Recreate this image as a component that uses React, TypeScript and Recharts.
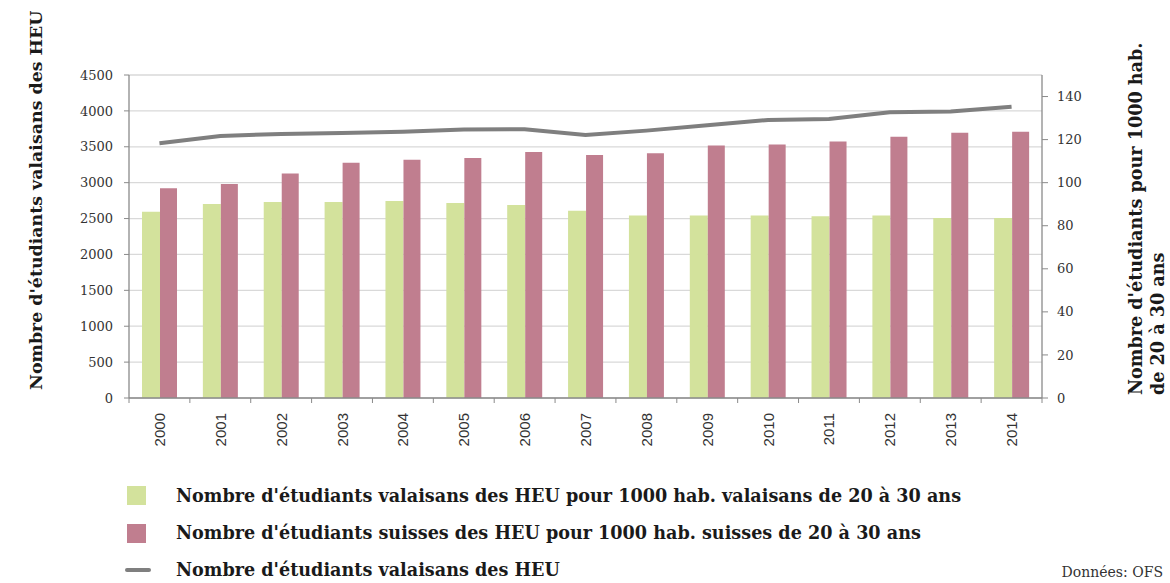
import React from 'react';
import { ComposedChart, Bar, Line, XAxis, YAxis, CartesianGrid } from 'recharts';

const years = ['2000','2001','2002','2003','2004','2005','2006','2007','2008','2009','2010','2011','2012','2013','2014'];
const valaisansPer1000 = [86.5, 90.1, 91.0, 91.0, 91.5, 90.5, 89.6, 87.0, 84.8, 84.8, 84.8, 84.4, 84.8, 83.6, 83.6];
const suissesPer1000 = [97.4, 99.4, 104.3, 109.2, 110.6, 111.4, 114.2, 112.8, 113.7, 117.3, 117.7, 119.1, 121.3, 123.2, 123.6];
const valaisansHEU = [3549, 3651, 3679, 3693, 3711, 3739, 3744, 3665, 3725, 3800, 3874, 3888, 3981, 3990, 4059];
const leftTicks = [0, 500, 1000, 1500, 2000, 2500, 3000, 3500, 4000, 4500];
const rightTicks = [0, 20, 40, 60, 80, 100, 120, 140];

const legendLabels = [
  "Nombre d'étudiants valaisans des HEU pour 1000 hab. valaisans de 20 à 30 ans",
  "Nombre d'étudiants suisses des HEU pour 1000 hab. suisses de 20 à 30 ans",
  "Nombre d'étudiants valaisans des HEU",
];

const data = years.map((y, i) => ({
  year: y,
  vs: valaisansPer1000[i],
  ch: suissesPer1000[i],
  heu: valaisansHEU[i],
}));

const GREEN = '#d3e29c';
const PINK = '#c07e8f';
const LINE = '#7f7f7f';
const AXIS = '#8a8a8a';
const SERIF = '"DejaVu Serif", serif';
const SANS = '"Liberation Sans", Arial, sans-serif';

const XTick = (props: any) => {
  const { x, y, payload, index } = props;
  const off = payload.offset ?? 0;
  return (
    <g>
      <line x1={x - off} x2={x - off} y1={y} y2={y + 5} stroke={AXIS} strokeWidth={1} />
      {index === years.length - 1 && (
        <line x1={x + off} x2={x + off} y1={y} y2={y + 5} stroke={AXIS} strokeWidth={1} />
      )}
      <text
        transform={`translate(${x + 5.5},${y + 15}) rotate(-90)`}
        textAnchor="end"
        fontFamily={SANS}
        fontSize={15}
        fill="#333"
      >
        {payload.value}
      </text>
    </g>
  );
};

export default function App() {
  return (
    <div style={{ position: 'absolute', left: 0, top: 0, width: 1170, height: 583, background: '#fff' }}>
      <ComposedChart
        width={1170}
        height={583}
        data={data}
        margin={{ top: 75, right: 68, left: 69, bottom: 135 }}
        barGap={0}
      >
        <CartesianGrid yAxisId="left" vertical={false} stroke="#d9d9d9" strokeWidth={1.3} />
        <XAxis
          dataKey="year"
          height={50}
          stroke={AXIS}
          axisLine={{ stroke: AXIS, strokeWidth: 1.3 }}
          tickLine={false}
          tickSize={0}
          tickMargin={0}
          interval={0}
          tick={<XTick />}
        />
        <YAxis
          yAxisId="left"
          orientation="left"
          width={60}
          domain={[0, 4500]}
          ticks={leftTicks}
          interval={0}
          axisLine={{ stroke: AXIS, strokeWidth: 1.3 }}
          tickLine={{ stroke: AXIS }}
          tickSize={5}
          tickMargin={11}
          tick={{ fontFamily: SERIF, fontSize: 13, fill: '#333' }}
        />
        <YAxis
          yAxisId="right"
          orientation="right"
          width={60}
          domain={[0, 150]}
          ticks={rightTicks}
          interval={0}
          axisLine={{ stroke: AXIS, strokeWidth: 1.3 }}
          tickLine={{ stroke: AXIS }}
          tickSize={6}
          tickMargin={9}
          tick={{ fontFamily: SERIF, fontSize: 13, fill: '#333', textAnchor: 'start' }}
        />
        <Bar yAxisId="right" dataKey="vs" fill={GREEN} barSize={18} isAnimationActive={false} />
        <Bar yAxisId="right" dataKey="ch" fill={PINK} barSize={17} isAnimationActive={false} />
        <Line
          yAxisId="left"
          dataKey="heu"
          type="linear"
          stroke={LINE}
          strokeWidth={4}
          dot={false}
          activeDot={false}
          isAnimationActive={false}
        />
      </ComposedChart>

      <svg width={1170} height={583} style={{ position: 'absolute', left: 0, top: 0, pointerEvents: 'none' }}>
        <text
          transform="translate(42,390) rotate(-90)"
          textAnchor="start"
          fontFamily={SERIF}
          fontWeight="bold"
          fontSize={17.4}
          fill="#1a1a1a"
        >
          Nombre d'étudiants valaisans des HEU
        </text>
        <text
          transform="translate(1142,395) rotate(-90)"
          textAnchor="start"
          fontFamily={SERIF}
          fontWeight="bold"
          fontSize={17.6}
          fill="#1a1a1a"
        >
          Nombre d'étudiants pour 1000 hab.
        </text>
        <text
          transform="translate(1164,395) rotate(-90)"
          textAnchor="start"
          fontFamily={SERIF}
          fontWeight="bold"
          fontSize={17.6}
          fill="#1a1a1a"
        >
          de 20 à 30 ans
        </text>

        <rect x={127} y={486} width={19} height={19} fill={GREEN} />
        <text x={176} y={502} fontFamily={SERIF} fontWeight="bold" fontSize={17.6} fill="#1a1a1a">{legendLabels[0]}</text>
        <rect x={127} y={524} width={19} height={19} fill={PINK} />
        <text x={176} y={539} fontFamily={SERIF} fontWeight="bold" fontSize={17.6} fill="#1a1a1a">{legendLabels[1]}</text>
        <line x1={127} x2={149} y1={570} y2={570} stroke={LINE} strokeWidth={4} strokeLinecap="round" />
        <text x={176} y={576} fontFamily={SERIF} fontWeight="bold" fontSize={17.6} fill="#1a1a1a">{legendLabels[2]}</text>

        <text x={1163} y={577} textAnchor="end" fontFamily={SERIF} fontSize={14} fill="#333">
          Données: OFS
        </text>
      </svg>
    </div>
  );
}
